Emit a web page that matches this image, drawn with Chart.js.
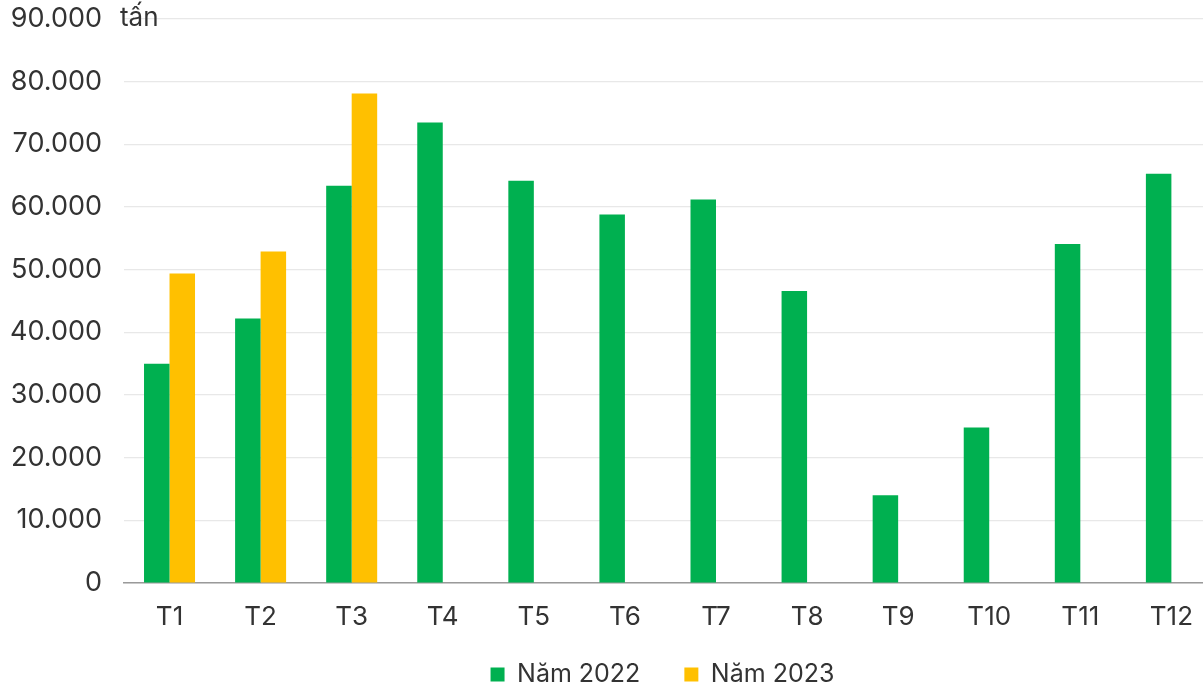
<!DOCTYPE html>
<html>
<head>
<meta charset="utf-8">
<script src="https://cdn.jsdelivr.net/npm/chart.js@4/dist/chart.umd.min.js"></script>
<style>
  html, body { margin: 0; padding: 0; background: #fff; overflow: hidden; }
  #wrap { width: 1224px; height: 691px; position: relative; }
</style>
</head>
<body>
<div id="wrap"><canvas id="c"></canvas></div>
<script>
const months = ['T1','T2','T3','T4','T5','T6','T7','T8','T9','T10','T11','T12'];
const values2022 = [35000, 42200, 63400, 73500, 64200, 58800, 61200, 46600, 14000, 24800, 54100, 65300];
const values2023 = [49400, 52900, 78100, null, null, null, null, null, null, null, null, null];
const seriesNames = ['Năm 2022', 'Năm 2023'];
const unitLabel = 'tấn';

const FONT = 'Inter, "Noto Sans", sans-serif';

const fmt = v => v === 0 ? '0' : v.toLocaleString('de-DE');

// unit caption placed beside the top tick of the value axis
const unitPlugin = {
  id: 'unitCaption',
  afterDraw(chart) {
    const y = chart.scales.y;
    const ctx = chart.ctx;
    ctx.save();
    ctx.font = '26px ' + FONT;
    ctx.fillStyle = '#333';
    ctx.textAlign = 'left';
    ctx.textBaseline = 'middle';
    ctx.fillText(unitLabel, chart.chartArea.left - 4, y.getPixelForValue(90000) - 1);
    ctx.restore();
  }
};

// compact legend band: wide gaps between items, band tucked under the axis labels
const legendBand = {
  id: 'legendBand',
  beforeLayout(chart) {
    const lg = chart.legend;
    if (lg && !lg._bandPatched) {
      const fit = lg.fit.bind(lg);
      lg.fit = function () { fit(); this.height = 60; };
      lg._bandPatched = true;
    }
  },
  afterLayout(chart) {
    const lg = chart.legend;
    if (!lg) return;
    lg.top -= 13;
    lg.height = 73;
    lg.bottom = lg.top + lg.height;
    lg.left -= 8;
    lg.right -= 8;
  }
};

new Chart(document.getElementById('c'), {
  type: 'bar',
  data: {
    labels: months,
    datasets: [
      { label: seriesNames[0], data: values2022, backgroundColor: '#00B050' },
      { label: seriesNames[1], data: values2023, backgroundColor: '#FFC000' }
    ]
  },
  options: {
    responsive: true,
    maintainAspectRatio: false,
    animation: false,
    layout: { padding: { top: 19, left: 10, right: 0, bottom: 0 } },
    datasets: { bar: { categoryPercentage: 0.56, barPercentage: 1.0 } },
    scales: {
      x: {
        grid: { display: false, drawTicks: false },
        border: { color: '#9a9a9a', width: 1.5 },
        ticks: { color: '#333', font: { family: FONT, size: 26, lineHeight: 0.25 }, padding: 31 },
        afterFit(s) { s.height = 48; }
      },
      y: {
        min: 0, max: 90000,
        grid: { color: '#e8e8e8', lineWidth: 1.2, drawTicks: true, tickLength: 22, tickColor: 'rgba(0,0,0,0)' },
        border: { display: false },
        ticks: {
          stepSize: 10000,
          color: '#333',
          font: { family: FONT, size: 27, lineHeight: 0.5 },
          padding: 0,
          callback: v => fmt(v)
        }
      }
    },
    plugins: {
      legend: {
        position: 'bottom',
        fullSize: false,
        labels: {
          color: '#333',
          font: { family: FONT, size: 25 },
          boxWidth: 14, boxHeight: 14,
          padding: 44
        }
      },
      tooltip: { enabled: false }
    }
  },
  plugins: [legendBand, unitPlugin]
});
</script>
</body>
</html>
